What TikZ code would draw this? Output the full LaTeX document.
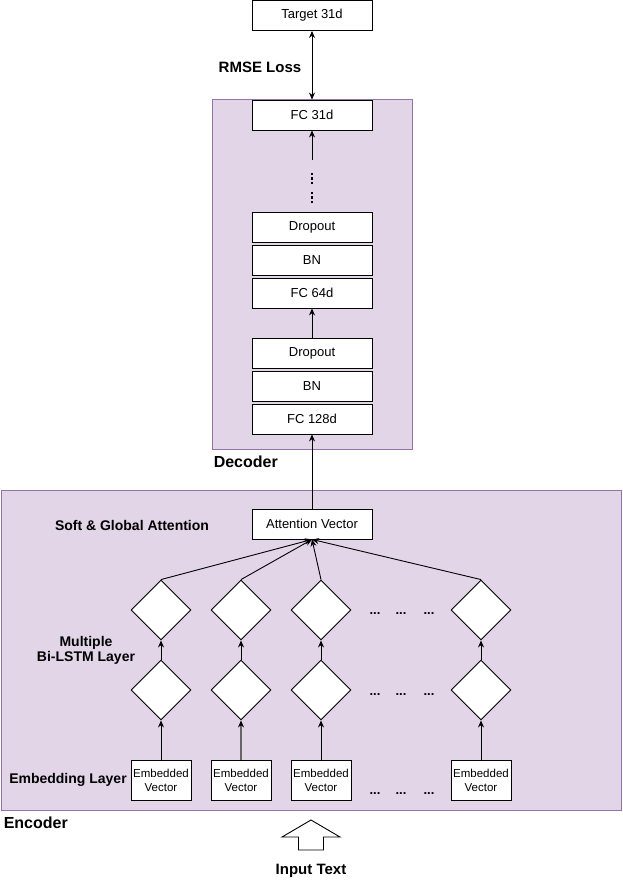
\documentclass[tikz,border=0pt]{standalone}
\usepackage{fontspec}
\setmainfont{Liberation Sans}
\usetikzlibrary{positioning, arrows.meta, shapes.geometric}
\definecolor{panelfill}{HTML}{E1D5E7}
\definecolor{paneldraw}{HTML}{9673A6}

\begin{document}
\begin{tikzpicture}[x=1pt,y=-1pt,node distance=33pt,on grid,line width=0.9pt,
    >={Stealth[length=7pt,width=6pt,color=black]},
    font=\fontsize{13}{15}\selectfont,
    panel/.style={draw=paneldraw,fill=panelfill,line width=1pt},
    layer/.style={draw,fill=white,minimum width=120pt,minimum height=30pt,inner sep=0pt},
    cell/.style={draw,fill=white,diamond,aspect=1,minimum size=60pt,inner sep=0pt},
    embed/.style={draw,fill=white,minimum width=60pt,minimum height=40pt,inner sep=1pt,
      align=center,font=\fontsize{11.5}{14}\selectfont},
    tag/.style={font=\bfseries\fontsize{14}{15}\selectfont,align=center},
    bigtag/.style={font=\bfseries\fontsize{16}{18}\selectfont,anchor=west},
    vdots/.style={line width=2.5pt,dash pattern=on 2.5pt off 2pt}]
  \useasboundingbox (0,0) rectangle (622,881);

  % panels
  \draw[panel] (212,99) rectangle (412,449);
  \draw[panel] (1,490) rectangle (621,810);
  \node[bigtag] (dec) at (210,462) {Decoder};
  \node[bigtag] (enc) at (0,823) {Encoder};

  % decoder
  \node[layer] (target) at (312,15.5) {Target 31d};
  \node[layer] (fc31) at (312,115) {FC 31d};
  \node[tag, font=\bfseries\fontsize{15}{17}\selectfont] (rmse) at (260,67) {RMSE Loss};
  \node[layer] (drop1) at (312,227) {Dropout};
  \node[layer] (bn1) [below=of drop1] {BN};
  \node[layer] (fc64) [below=of bn1] {FC 64d};
  \node[layer] (drop2) [below=60pt of fc64] {Dropout};
  \node[layer] (bn2) [below=of drop2] {BN};
  \node[layer] (fc128) [below=of bn2] {FC 128d};
  \coordinate (gap) at (312,160);

  \draw[<->] (target) -- (fc31);
  \draw[->] (gap) -- (fc31);
  \draw[vdots] (312,203) -- (312,191);
  \draw[vdots] (312,184) -- (312,172);
  \draw[->] (drop2) -- (fc64);

  % encoder
  \node[layer] (att) [below=105pt of fc128] {Attention Vector};
  \draw[->] (att) -- (fc128);
  \node[tag] (soft) at (132,525) {Soft \& Global Attention};
  \node[tag] (bilstm) at (86,650) {Multiple\\Bi-LSTM Layer};
  \node[tag] (embl) at (68,780) {Embedding Layer};

  \foreach \i/\x/\c/\w in {1/161/black/0.9pt,2/241/black!60/1.6pt,3/321/black/0.9pt,4/481/black/0.9pt} {
    \node[cell] (top\i) at (\x,610) {};
    \node[cell] (bot\i) at (\x,690) {};
    \node[embed] (emb\i) at (\x,780) {Embedded\\Vector};
    \draw[-{Stealth[length=7pt,width=6pt,color=black,line width=0.9pt]},draw=\c,line width=\w] (emb\i) -- (bot\i);
    \draw[->] (bot\i) -- (top\i);
    \draw[->] (top\i.north) -- (att.south);
  }

  \foreach \r/\y in {a/614,b/695,c/794}
    \foreach \j/\x in {1/375,2/401,3/429}
      \node[font=\bfseries\fontsize{13}{15}\selectfont] (dots\r\j) at (\x,\y) {...};

  % input
  \draw[fill=white] (298.5,850) -- (298.5,837) -- (282,837) -- (311,820)
    -- (340,837) -- (323.5,837) -- (323.5,850) -- cycle;
  \node[tag, font=\bfseries\fontsize{15}{17}\selectfont] (input) at (311,871) {Input Text};
\end{tikzpicture}
\end{document}
